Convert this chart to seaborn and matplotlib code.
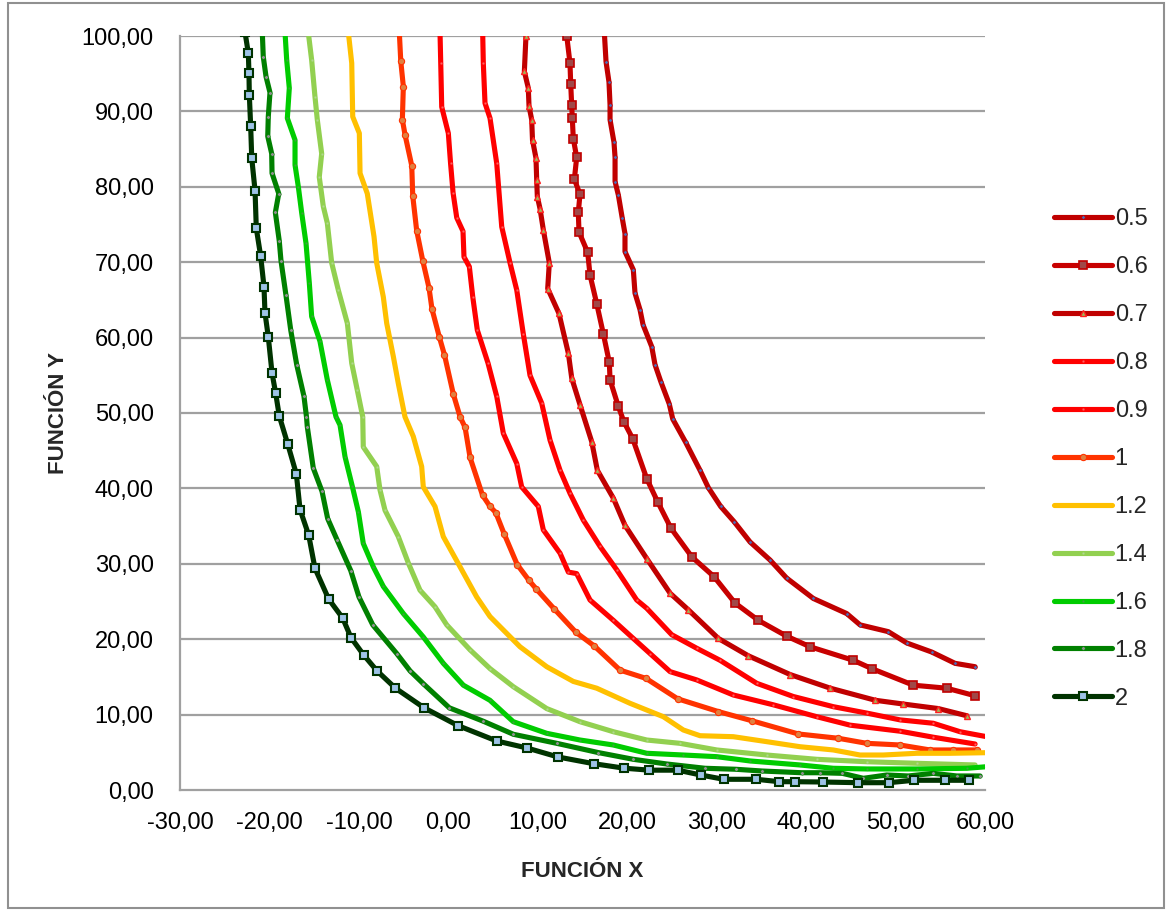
import matplotlib
matplotlib.use("Agg")
import matplotlib.pyplot as plt
from matplotlib.patches import Rectangle
from matplotlib.ticker import FuncFormatter
import seaborn as sns

# ---------------- data ----------------
series_names = ["0.5", "0.6", "0.7", "0.8", "0.9", "1", "1.2", "1.4", "1.6", "1.8", "2"]

x_05 = [17.44,17.63,17.96,18.08,18.08,18.52,18.64,18.64,19.01,19.45,19.75,19.75,20.68,20.87,21.43,21.77,22.74,23.11,23.76,24.70,25.09,26.54,28.14,29.07,30.45,31.94,33.73,35.97,37.83,40.81,44.54,46.03,49.19,51.25,54.04,56.65,58.89]
y_05 = [100.5,96.6,93.9,90.85,88.9,85.9,83.9,80.7,78.9,75.8,73.8,71.4,69.0,65.9,63.7,61.7,58.8,56.4,54.15,51.2,49.2,46.1,42.4,40.1,37.6,35.6,32.9,30.5,28.1,25.4,23.4,21.9,21.0,19.5,18.3,16.8,16.35]

x_06 = [13.24,13.60,13.68,13.79,13.86,13.97,14.35,14.09,14.72,14.53,14.61,15.58,15.84,16.59,17.33,18.00,18.08,19.00,19.64,20.61,22.18,23.41,24.90,27.24,29.70,32.05,34.66,37.83,40.43,45.28,47.34,51.99,55.72,58.89]
y_06 = [100.0,96.4,93.7,90.85,89.1,86.4,83.9,81.0,79.0,76.6,74.0,71.3,68.3,64.5,60.5,56.7,54.4,50.9,48.8,46.6,41.3,38.2,34.7,30.9,28.3,24.8,22.5,20.4,19.0,17.2,16.1,13.9,13.5,12.5]

x_07 = [8.68,8.50,8.94,9.02,9.32,9.41,9.80,9.88,9.95,10.25,10.62,11.29,11.11,12.37,13.42,13.80,14.72,16.03,16.66,18.45,19.75,22.18,24.79,26.83,30.19,33.54,38.24,42.71,47.74,50.87,54.78,57.96]
y_07 = [100.0,95.3,93.1,90.7,88.9,86.2,83.8,80.9,78.7,77.1,74.3,69.9,66.5,63.2,57.9,54.6,51.1,46.2,42.4,38.7,35.1,30.7,26.1,23.9,20.1,17.8,15.3,13.5,11.9,11.4,10.8,9.85]

x_08 = [3.84,3.91,4.10,4.66,5.41,5.97,6.90,7.65,8.38,9.13,10.44,11.37,12.49,13.60,15.09,16.96,18.83,21.06,22.18,24.97,27.77,30.38,34.48,38.57,43.04,46.78,50.50,54.22,57.21,60.19]
y_08 = [100.5,96.4,91.1,89.1,83.1,74.7,69.9,66.3,60.5,55.0,51.3,46.4,42.4,39.35,35.8,32.3,29.2,25.2,24.1,20.6,18.8,17.2,14.15,12.4,11.05,10.2,9.3,8.85,7.73,7.07]

x_09 = [-0.93,-0.85,-0.74,0.00,0.25,0.53,0.94,1.64,1.75,2.35,2.73,3.24,4.44,5.41,6.15,7.65,8.20,10.06,10.62,12.49,13.42,14.35,15.84,18.45,20.68,22.55,24.79,27.77,31.86,36.33,41.19,44.91,50.50,54.22,58.89]
y_09 = [100.5,96.4,90.6,87.1,83.1,79.2,75.9,74.1,70.7,69.4,65.4,61.0,56.6,52.2,47.3,43.3,40.2,37.6,34.5,31.4,28.9,28.7,25.2,22.5,20.1,18.1,15.7,14.6,12.6,11.3,9.72,8.6,7.8,7.0,6.1]

x_1 = [-5.48,-5.32,-5.03,-5.14,-4.84,-4.09,-3.98,-3.54,-2.86,-2.16,-1.83,-1.01,-0.43,0.56,1.31,1.87,2.43,3.82,4.66,5.30,6.23,7.70,9.02,9.80,11.85,14.28,16.32,19.20,22.10,25.63,30.19,33.92,39.13,43.60,46.78,50.50,53.85,56.46,59.08]
y_1 = [100.5,96.7,93.3,88.9,86.9,82.8,78.8,74.2,70.2,66.6,63.8,60.1,57.7,52.5,49.5,48.1,44.1,39.1,37.6,36.8,34.0,29.9,27.8,26.7,24.0,20.9,19.1,15.9,14.8,12.1,10.4,9.19,7.43,6.86,6.19,5.97,5.31,5.31,5.31]

x_12 = [-11.18,-10.80,-10.69,-9.95,-9.87,-9.06,-8.31,-8.01,-7.27,-6.89,-6.15,-5.59,-4.85,-3.92,-2.98,-2.80,-1.49,-0.56,1.31,3.17,4.66,8.01,11.00,13.97,16.59,20.31,24.04,26.27,28.14,31.86,35.60,39.32,43.04,46.03,48.63,52.37,56.09,60.19]
y_12 = [100.5,96.4,89.3,87.1,81.8,79.1,73.4,69.9,65.4,61.9,57.5,53.9,49.5,46.9,42.9,40.2,37.6,33.6,29.6,25.6,23.0,19.0,16.35,14.4,13.5,11.5,9.72,7.96,7.20,7.07,6.41,5.74,5.31,4.64,4.64,4.87,4.87,4.95]

x_14 = [-15.66,-15.28,-14.91,-14.65,-14.16,-14.43,-13.98,-13.53,-13.04,-12.30,-11.29,-10.80,-10.18,-9.57,-9.51,-8.01,-7.64,-7.08,-5.59,-4.47,-3.17,-1.49,-0.18,2.42,4.66,7.27,11.00,14.72,18.45,22.18,25.90,30.01,35.60,41.19,46.78,52.37,58.89]
y_14 = [100.5,96.8,91.95,88.9,84.4,81.3,77.4,75.2,69.9,66.3,61.9,56.6,53.05,49.5,45.5,42.9,39.8,37.1,33.6,30.1,26.5,24.3,21.9,18.6,16.1,13.7,10.8,9.06,7.73,6.63,6.19,5.31,4.64,4.07,3.75,3.54,3.32]

x_16 = [-18.26,-18.07,-17.78,-18.00,-17.14,-17.14,-16.77,-16.39,-15.91,-15.54,-15.28,-14.35,-13.53,-12.56,-12.11,-11.55,-10.74,-10.06,-9.51,-8.39,-7.27,-5.03,-2.80,-0.56,1.68,4.65,7.26,10.99,14.72,18.44,22.18,26.27,30.01,33.73,39.32,43.04,46.78,52.37,57.96,60.19]
y_16 = [100.5,96.8,93.1,89.1,86.2,82.9,80.0,76.5,72.5,67.2,62.8,59.5,54.4,49.5,48.4,44.2,40.3,36.9,32.7,29.6,27.0,23.4,20.3,16.8,13.9,11.9,9.06,7.52,6.63,5.97,4.87,4.64,4.42,3.85,3.32,2.88,2.79,2.79,2.88,3.09]

x_18 = [-20.80,-20.69,-20.38,-19.94,-20.13,-20.19,-19.75,-19.71,-18.96,-19.34,-18.90,-18.71,-18.15,-17.62,-16.95,-16.14,-15.86,-15.77,-15.10,-14.12,-13.49,-12.45,-10.91,-9.99,-8.45,-5.77,-4.28,-2.80,0.11,3.91,7.27,12.12,16.74,20.68,24.42,28.70,32.13,35.04,39.51,41.56,44.05,46.40,49.01,51.43,54.22,56.84,59.45]
y_18 = [100.5,97.25,94.6,92.5,89.3,86.7,84.4,81.8,79.1,76.6,72.8,70.2,65.6,61.0,56.4,52.2,49.5,48.2,42.7,39.6,36.0,33.2,29.1,25.6,21.9,18.1,15.8,14.1,10.9,9.12,7.39,6.19,4.97,4.07,3.45,2.88,2.75,2.52,2.29,2.29,2.21,1.55,1.99,1.86,2.21,1.86,1.86]

x_2 = [-22.73,-22.36,-22.29,-22.25,-22.10,-21.98,-21.61,-21.47,-20.98,-20.61,-20.50,-20.13,-19.71,-19.30,-18.90,-17.96,-16.99,-16.58,-15.61,-14.91,-13.37,-11.81,-10.88,-9.46,-7.97,-5.91,-2.71,1.06,5.41,8.80,12.26,16.25,19.68,22.49,25.65,28.22,30.79,34.44,37.01,38.76,41.89,45.84,49.24,52.07,55.50,58.25]
y_2 = [100.5,97.7,95.05,92.2,88.1,83.8,79.5,74.5,70.8,66.75,63.3,60.1,55.3,52.6,49.6,45.9,41.9,37.2,33.8,29.4,25.3,22.8,20.2,17.9,15.8,13.5,10.9,8.55,6.5,5.57,4.38,3.49,2.89,2.63,2.63,1.99,1.42,1.42,1.10,1.10,1.06,0.97,0.97,1.29,1.29,1.29]

x_ticks = [-30, -20, -10, 0, 10, 20, 30, 40, 50, 60]
y_ticks = [0, 10, 20, 30, 40, 50, 60, 70, 80, 90, 100]

series_x = [x_05, x_06, x_07, x_08, x_09, x_1, x_12, x_14, x_16, x_18, x_2]
series_y = [y_05, y_06, y_07, y_08, y_09, y_1, y_12, y_14, y_16, y_18, y_2]

# ---------------- style ----------------
colors = ["#C00000", "#C80000", "#C00000", "#FF0000", "#FF0000", "#FF3300",
          "#FFC000", "#92D050", "#00CC00", "#008000", "#003300"]
marker_styles = [
    dict(marker="o", markersize=2.5, markerfacecolor="#4472C4", markeredgecolor="#C00000", markeredgewidth=0.5),
    dict(marker="s", markersize=5.5, markerfacecolor="#A04848", markeredgecolor="#C00000", markeredgewidth=1.2),
    dict(marker="^", markersize=5, markerfacecolor="#9BBB59", markeredgecolor="#FF2020", markeredgewidth=1.0),
    dict(marker="o", markersize=2, markerfacecolor="#FF6060", markeredgecolor="#FF0000", markeredgewidth=0.3),
    dict(marker="o", markersize=2, markerfacecolor="#FF6060", markeredgecolor="#FF0000", markeredgewidth=0.3),
    dict(marker="o", markersize=4.5, markerfacecolor="#E08040", markeredgecolor="#FF3300", markeredgewidth=0.8),
    dict(marker=None),
    dict(marker="o", markersize=2, markerfacecolor="#B0D890", markeredgecolor="#92D050", markeredgewidth=0.3),
    dict(marker="o", markersize=2, markerfacecolor="#40A040", markeredgecolor="#00CC00", markeredgewidth=0.3),
    dict(marker="o", markersize=2.5, markerfacecolor="#909090", markeredgecolor="#008000", markeredgewidth=0.3),
    dict(marker="s", markersize=5.5, markerfacecolor="#9DC3E6", markeredgecolor="#003300", markeredgewidth=1.5),
]

sns.set_theme(style="white")
plt.rcParams["font.family"] = ["Liberation Sans", "DejaVu Sans"]

W, H = 1168, 911
fig = plt.figure(figsize=(W / 100, H / 100), dpi=100)
ax = fig.add_axes([180 / W, 1 - 790 / H, (985 - 180) / W, (790 - 36) / H])

for name, xs, ys, col, mk in zip(series_names, series_x, series_y, colors, marker_styles):
    sns.lineplot(x=xs, y=ys, sort=False, estimator=None, color=col, linewidth=3.7,
                 label=name, ax=ax, solid_joinstyle="round", solid_capstyle="round", **mk)

ax.set_xlim(-30, 60)
ax.set_ylim(0, 100)
ax.set_xticks(x_ticks)
ax.set_yticks(y_ticks)
fmt = FuncFormatter(lambda v, p: f"{v:.2f}".replace(".", ","))
ax.xaxis.set_major_formatter(fmt)
ax.yaxis.set_major_formatter(fmt)
ax.tick_params(axis="both", length=0, labelsize=17, colors="black")
ax.tick_params(axis="x", pad=16)
ax.tick_params(axis="y", pad=19)

ax.grid(False)
for yv in y_ticks[1:]:
    ax.axhline(yv, color="#A0A0A0", linewidth=1.6, zorder=0)

for side in ["top", "right"]:
    ax.spines[side].set_visible(False)
for side in ["left", "bottom"]:
    ax.spines[side].set_color("#A0A0A0")
    ax.spines[side].set_linewidth(1.6)

ax.set_xlabel("FUNCIÓN X", fontsize=16, fontweight="bold", labelpad=19)
ax.set_ylabel("FUNCIÓN Y", fontsize=16, fontweight="bold", labelpad=9)

handles, labels = ax.get_legend_handles_labels()
ax.legend(handles, labels, loc="upper left", bbox_to_anchor=(1054 / W, 1 - 208 / H),
          bbox_transform=fig.transFigure, frameon=False, fontsize=17,
          handlelength=2.45, handletextpad=0.12, labelspacing=1.1, borderpad=0,
          borderaxespad=0, numpoints=1)

fig.patches.append(Rectangle((8 / W, 3 / H), (1164 - 8) / W, (908 - 3) / H,
                             transform=fig.transFigure, fill=False,
                             edgecolor="#909090", linewidth=1.5))

fig.savefig("out.png", dpi=100)
